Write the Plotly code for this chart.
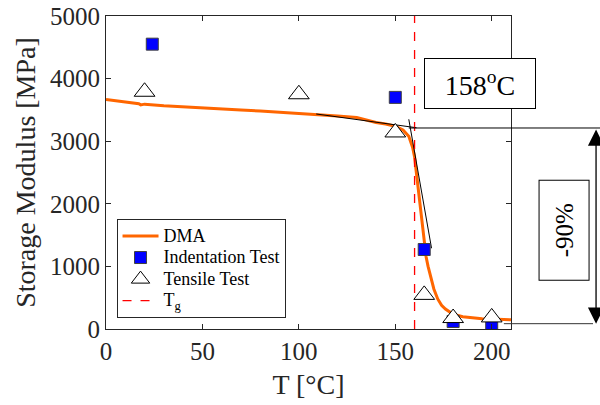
import plotly.graph_objects as go

# DMA storage modulus curve (T in °C, E' in MPa)
dma_T = [0, 10, 17, 18, 20, 30, 40, 50, 60, 70, 80, 90, 100, 110, 120, 130,
         140, 145, 150, 154, 157, 159, 160, 161, 162, 163, 164, 165, 166, 167,
         168, 170, 172, 174, 176, 178, 180, 185, 190, 195, 200, 205, 210]
dma_E = [3665, 3625, 3598, 3580, 3592, 3565, 3545, 3527, 3512, 3497, 3482,
         3464, 3446, 3424, 3402, 3378, 3300, 3275, 3240, 3180, 3080, 2900,
         2750, 2480, 2200, 1920, 1650, 1350, 1150, 1000, 880, 640, 480, 380,
         320, 270, 235, 195, 175, 165, 158, 152, 146]

# Indentation test results
ind_T = [24, 150, 165, 180, 200]
ind_E = [4550, 3700, 1270, 120, 80]

# Tensile test results
ten_T = [20, 100, 150, 165, 180, 200]
ten_E = [3790, 3750, 3140, 545, 175, 185]

# Glass transition temperature line
tg_T = [160, 160]
tg_E = [0, 5000]

# Tangent construction for the onset temperature
tan1_T = [109, 161]
tan1_E = [3435, 3215]
tan2_T = [157, 168.8]
tan2_E = [3350, 1290]
onset_T = 157
E_top = 3211
E_bottom = 85

x_ticks = [0, 50, 100, 150, 200]
y_ticks = [0, 1000, 2000, 3000, 4000, 5000]

FONT = '"Liberation Serif", "Times New Roman", serif'
X_MAX = 210


def legend_label(text):
    # larger glyphs than the legend row height would otherwise allow
    return '<span style="font-size:18px">' + text + '</span>'


fig = go.Figure()

fig.add_trace(go.Scatter(x=dma_T, y=dma_E, mode="lines", name=legend_label("DMA"),
                         line=dict(color="#FF6600", width=3)))
fig.add_trace(go.Scatter(x=tan1_T, y=tan1_E, mode="lines", showlegend=False,
                         line=dict(color="black", width=1)))
fig.add_trace(go.Scatter(x=tan2_T, y=tan2_E, mode="lines", showlegend=False,
                         line=dict(color="black", width=1)))
fig.add_trace(go.Scatter(x=ind_T, y=ind_E, mode="markers",
                         name=legend_label("Indentation Test"),
                         marker=dict(symbol="square", size=12, color="#0000FF",
                                     line=dict(color="#404040", width=1))))
fig.add_trace(go.Scatter(x=ten_T, y=ten_E, mode="markers",
                         name=legend_label("Tensile Test"),
                         marker=dict(symbol="triangle-up", size=18, color="white",
                                     line=dict(color="black", width=1))))
fig.add_trace(go.Scatter(x=tg_T, y=tg_E, mode="lines",
                         name=legend_label("T<sub>g</sub>"),
                         line=dict(color="#FF0000", width=1.3, dash="dash")))

# reference levels: onset modulus and rubbery plateau, extending to the right
fig.add_shape(type="line", xref="paper", yref="y",
              x0=onset_T / X_MAX, x1=1.22, y0=E_top, y1=E_top,
              line=dict(color="black", width=1))
fig.add_shape(type="line", xref="paper", yref="y",
              x0=206.3 / X_MAX, x1=1.2025, y0=E_bottom, y1=E_bottom,
              line=dict(color="#333333", width=1))

# double-headed arrow for the modulus drop
fig.add_annotation(xref="paper", yref="y", x=1.21, y=E_bottom,
                   axref="pixel", ax=0, ayref="y", ay=E_top,
                   text="", showarrow=True, arrowside="end+start",
                   arrowhead=2, startarrowhead=2, arrowsize=2.5,
                   startarrowsize=2.5, arrowwidth=1.3, arrowcolor="black")

fig.add_annotation(xref="paper", yref="paper", x=0.923, y=0.783,
                   xanchor="center", yanchor="middle",
                   text="158<sup>o</sup>C", showarrow=False,
                   font=dict(family=FONT, size=28, color="black"),
                   bordercolor="black", borderwidth=1, borderpad=0,
                   bgcolor="white", width=110, height=49)
fig.add_annotation(xref="paper", yref="paper", x=1.130, y=0.316,
                   xanchor="center", yanchor="middle",
                   text="-90%", showarrow=False, textangle=-90,
                   font=dict(family=FONT, size=25, color="black"),
                   bordercolor="black", borderwidth=1, borderpad=0,
                   bgcolor="white", width=99, height=49)

axis_common = dict(showline=True, linecolor="#262626", linewidth=1,
                   mirror="ticks", ticks="inside", ticklen=5,
                   tickcolor="#262626", showgrid=False, zeroline=False,
                   automargin=False,
                   tickfont=dict(family=FONT, size=25, color="#262626"))

fig.update_xaxes(range=[0, X_MAX], tickvals=x_ticks,
                 title=dict(text="T [°C]", font=dict(family=FONT, size=28, color="#262626"),
                            standoff=10),
                 **axis_common)
fig.update_yaxes(range=[0, 5000], tickvals=y_ticks,
                 title=dict(text="Storage Modulus [MPa]",
                            font=dict(family=FONT, size=28, color="#262626"),
                            standoff=6),
                 **axis_common)

fig.update_layout(
    width=600, height=405,
    margin=dict(l=106, r=89, t=16, b=76),
    plot_bgcolor="white", paper_bgcolor="white",
    font=dict(family=FONT, color="black"),
    legend=dict(x=0.026, y=0.351, xanchor="left", yanchor="top",
                bgcolor="white", bordercolor="#262626", borderwidth=1,
                font=dict(family=FONT, size=14.3, color="black"),
                itemwidth=36, tracegroupgap=0),
)

fig.write_html("out.html")
